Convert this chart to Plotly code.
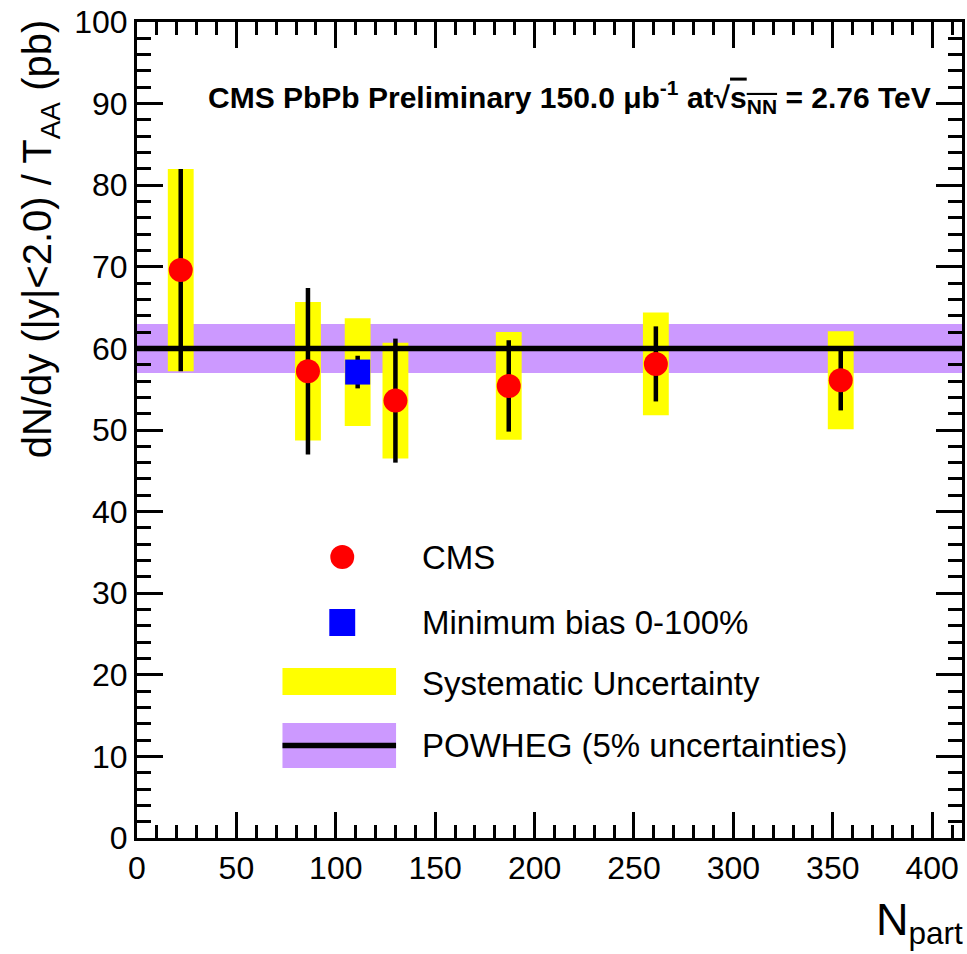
import plotly.graph_objects as go

# ---- data ----
npart = [22.0, 86.0, 130.0, 187.0, 261.0, 354.0]
yield_cms = [69.6, 57.2, 53.6, 55.4, 58.1, 56.1]
stat_cms = [12.4, 10.2, 7.6, 5.6, 4.6, 3.7]
syst_cms = [12.4, 8.5, 7.1, 6.6, 6.3, 6.0]

npart_mb = [111.0]
yield_mb = [57.1]
stat_mb = [2.0]
syst_mb = [6.6]

powheg_value = 60.0
powheg_rel_unc = 0.05

x_range = [0, 415]
y_range = [0, 100]

legend_labels = ["CMS", "Minimum bias 0-100%", "Systematic Uncertainty",
                 "POWHEG (5% uncertainties)"]

# ---- style ----
FONT = "Liberation Sans, Arial, Helvetica, sans-serif"
YELLOW = "#ffff00"
PURPLE = "#cc99ff"
W, H = 967, 954
ML, MR, MT, MB = 137, 2, 22, 116
PW, PH = W - ML - MR, H - MT - MB


def px(xp):
    return (xp - ML) / PW


def py(yp):
    return (H - MB - yp) / PH


fig = go.Figure()

# systematic boxes
all_x = npart + npart_mb
all_y = yield_cms + yield_mb
all_s = syst_cms + syst_mb
fig.add_trace(go.Bar(
    x=all_x, y=[2 * s for s in all_s], base=[v - s for v, s in zip(all_y, all_s)],
    width=13, marker=dict(color=YELLOW, line=dict(width=0)),
    showlegend=False, hoverinfo="skip"))

# POWHEG line
fig.add_trace(go.Scatter(
    x=x_range, y=[powheg_value, powheg_value], mode="lines",
    line=dict(color="black", width=5.5), showlegend=False, hoverinfo="skip"))

# Min bias
fig.add_trace(go.Scatter(
    x=npart_mb, y=yield_mb, mode="markers",
    marker=dict(symbol="square", size=25, color="#0000ff"),
    error_y=dict(type="data", array=stat_mb, color="black", thickness=4.5, width=0),
    showlegend=False))

# CMS points
fig.add_trace(go.Scatter(
    x=npart, y=yield_cms, mode="markers",
    marker=dict(symbol="circle", size=24, color="#ff0000"),
    error_y=dict(type="data", array=stat_cms, color="black", thickness=4.5, width=0),
    showlegend=False))

shapes = [
    dict(type="rect", xref="x", yref="y", x0=x_range[0], x1=x_range[1],
         y0=powheg_value * (1 - powheg_rel_unc), y1=powheg_value * (1 + powheg_rel_unc),
         fillcolor=PURPLE, line=dict(width=0), layer="below"),
]

# ---- manual legend ----
shapes += [
    dict(type="circle", xref="paper", yref="paper",
         x0=px(331), x1=px(355), y0=py(569), y1=py(545),
         fillcolor="#ff0000", line=dict(width=0)),
    dict(type="rect", xref="paper", yref="paper",
         x0=px(330), x1=px(356), y0=py(636), y1=py(609),
         fillcolor="#0000ff", line=dict(width=0)),
    dict(type="rect", xref="paper", yref="paper",
         x0=px(283), x1=px(397), y0=py(695), y1=py(668),
         fillcolor=YELLOW, line=dict(width=0)),
    dict(type="rect", xref="paper", yref="paper",
         x0=px(283), x1=px(397), y0=py(768), y1=py(723),
         fillcolor=PURPLE, line=dict(width=0)),
    dict(type="line", xref="paper", yref="paper",
         x0=px(283), x1=px(397), y0=py(745.5), y1=py(745.5),
         line=dict(color="black", width=5.5)),
]

annotations = []
for lab, yp in zip(legend_labels, [557, 622, 683, 745]):
    annotations.append(dict(text=lab, xref="paper", yref="paper",
                            x=px(421), y=py(yp), xanchor="left", yanchor="middle",
                            showarrow=False, font=dict(family=FONT, size=33, color="black")))

annotations.append(dict(
    text="<b>CMS PbPb Preliminary 150.0 μb<sup>-1</sup> at√<span style='text-decoration:overline'>s<sub>NN</sub></span> = 2.76 TeV</b>",
    xref="paper", yref="paper", x=px(936), y=py(97), xanchor="right", yanchor="middle",
    showarrow=False, font=dict(family=FONT, size=30, color="black")))

annotations.append(dict(
    text="dN/dy (|y|<2.0) / T<sub>AA</sub> (pb)",
    xref="paper", yref="paper", x=px(40), y=py(239), xanchor="center", yanchor="middle",
    textangle=-90, showarrow=False, font=dict(family=FONT, size=40, color="black")))

annotations.append(dict(
    text="N<sub>part</sub>",
    xref="paper", yref="paper", x=px(968), y=py(922), xanchor="right", yanchor="middle",
    showarrow=False, font=dict(family=FONT, size=45, color="black")))

axis_common = dict(
    showline=True, linecolor="black", linewidth=3, mirror="allticks",
    ticks="inside", tickcolor="black", tickwidth=3, ticklen=26,
    showgrid=False, zeroline=False,
    tickfont=dict(family=FONT, size=32, color="black"),
)

fig.update_layout(
    width=W, height=H,
    margin=dict(l=ML, r=MR, t=MT, b=MB),
    paper_bgcolor="white", plot_bgcolor="white",
    barmode="overlay", showlegend=False,
    xaxis=dict(range=x_range, dtick=50, tick0=0,
               minor=dict(dtick=10, ticks="inside", ticklen=13, tickwidth=3, tickcolor="black"),
               **axis_common),
    yaxis=dict(range=y_range, dtick=10, tick0=0,
               minor=dict(dtick=2, ticks="inside", ticklen=14, tickwidth=3, tickcolor="black"),
               **axis_common),
    shapes=shapes, annotations=annotations,
)

fig.write_html("out.html")
